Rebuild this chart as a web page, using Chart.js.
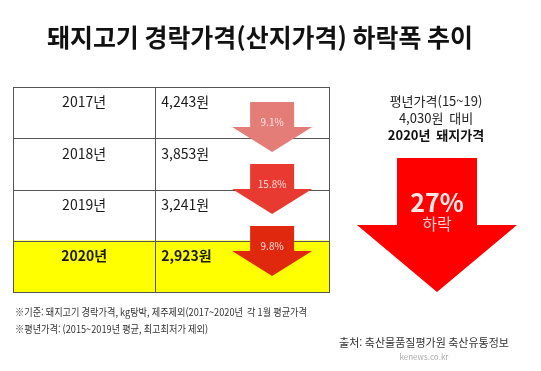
<!DOCTYPE html>
<html lang="ko">
<head>
<meta charset="utf-8">
<title>돼지고기 경락가격 하락폭 추이</title>
<script src="https://cdn.jsdelivr.net/npm/chart.js@4.4.1/dist/chart.umd.min.js"></script>
<style>
    html, body { margin: 0; padding: 0; background: #fff; }
    #caixa { width: 541px; height: 371px; }
</style>
</head>
<body>
<div id="caixa"><canvas id="grafico" width="541" height="371"></canvas></div>
<script>
// Dados (preço médio de janeiro, 원/kg)
const anos = ['2017년', '2018년', '2019년', '2020년'];
const precos = [4243, 3853, 3241, 2923];
const quedas = ['9.1%', '15.8%', '9.8%']; // queda em relação ao ano anterior
const anoDestaque = '2020년';
const precoPadrao = 4030; // 평년가격 (2015~2019)
const quedaTotal = '27%';

const titulo = '돼지고기 경락가격(산지가격) 하락폭 추이';
const textoLateral = ['평년가격(15~19)', precoPadrao.toLocaleString('ko-KR') + '원  대비', '2020년  돼지가격'];
const notas = [
    '※기준: 돼지고기 경락가격, kg탕박, 제주제외(2017~2020년  각 1월 평균가격',
    '※평년가격: (2015~2019년 평균, 최고최저가 제외)'
];
const fonte = '출처: 축산물품질평가원 축산유통정보';

const FONTE = '"Noto Sans CJK KR", "Noto Sans", sans-serif';
const coresSeta = ['#e47c78', '#e83a30', '#e0280f'];

// desenha uma seta para baixo (haste + ponta)
function desenharSeta(ctx, cx, topo, meiaHaste, meiaPonta, altHaste, altPonta, cor) {
    ctx.save();
    ctx.fillStyle = cor;
    ctx.beginPath();
    ctx.moveTo(cx - meiaHaste, topo);
    ctx.lineTo(cx + meiaHaste, topo);
    ctx.lineTo(cx + meiaHaste, topo + altHaste);
    ctx.lineTo(cx + meiaPonta, topo + altHaste);
    ctx.lineTo(cx, topo + altHaste + altPonta);
    ctx.lineTo(cx - meiaPonta, topo + altHaste);
    ctx.lineTo(cx - meiaHaste, topo + altHaste);
    ctx.closePath();
    ctx.fill();
    ctx.restore();
}

// Plugin da tabela: bordas, textos e setas de variação
const pluginTabela = {
    id: 'tabela',
    afterDatasetsDraw(chart) {
        const { ctx, chartArea: area, scales: { x, y } } = chart;
        const meio = (i) => (y.getPixelForValue(i) + y.getPixelForValue(i + 1)) / 2;
        const xDivisao = x.getPixelForValue(0.45);

        ctx.save();
        ctx.strokeStyle = '#555';
        ctx.lineWidth = 1;
        ctx.strokeRect(area.left + 0.5, area.top + 0.5, area.width, area.height);
        ctx.beginPath();
        for (let i = 0; i < anos.length - 1; i++) {
            const yy = Math.round(meio(i)) + 0.5;
            ctx.moveTo(area.left, yy);
            ctx.lineTo(area.right, yy);
        }
        ctx.moveTo(Math.round(xDivisao) + 0.5, area.top);
        ctx.lineTo(Math.round(xDivisao) + 0.5, area.bottom);
        ctx.stroke();

        // textos das linhas
        ctx.fillStyle = '#1a1a1a';
        ctx.textBaseline = 'middle';
        anos.forEach((ano, i) => {
            const topoLinha = i === 0 ? area.top : meio(i - 1);
            const yy = topoLinha + 15;
            const negrito = ano === anoDestaque ? 'bold ' : '';
            ctx.font = negrito + '14px ' + FONTE;
            ctx.textAlign = 'center';
            ctx.fillText(ano, (area.left + xDivisao) / 2, yy);
            ctx.textAlign = 'left';
            ctx.fillText(precos[i].toLocaleString('ko-KR') + '원', xDivisao + 6, yy);
        });

        // setas entre os anos
        const cx = x.getPixelForValue(0.82);
        quedas.forEach((q, i) => {
            const centro = y.getPixelForValue(0.28 + i * 1.21);
            const topo = centro - 25;
            desenharSeta(ctx, cx, topo, 22, 40, 25, 25, coresSeta[i]);
            ctx.fillStyle = 'rgba(255,235,235,0.95)';
            ctx.font = '10px ' + FONTE;
            ctx.textAlign = 'center';
            ctx.fillText(q, cx, topo + 20, 30);
        });
        ctx.restore();
    },
    afterDraw(chart) {
        const { ctx } = chart;
        ctx.save();
        ctx.textBaseline = 'middle';

        // título
        ctx.textAlign = 'left';
        ctx.fillStyle = '#111';
        ctx.font = 'bold 25px ' + FONTE;
        ctx.fillText(titulo, 47, 37, 426);

        // bloco lateral
        ctx.textAlign = 'center';
        ctx.fillStyle = '#222';
        ctx.font = '13px ' + FONTE;
        ctx.fillText(textoLateral[0], 436, 101);
        ctx.fillText(textoLateral[1], 436, 118);
        ctx.font = 'bold 13px ' + FONTE;
        ctx.fillStyle = '#111';
        ctx.fillText(textoLateral[2], 436, 135);

        // seta grande (queda total)
        desenharSeta(ctx, 437, 158, 40, 80, 67, 67, '#ff0000');
        ctx.fillStyle = '#ffe6e6';
        ctx.font = 'bold 25px ' + FONTE;
        ctx.fillText(quedaTotal, 437, 202);
        ctx.fillStyle = '#ffd0d0';
        ctx.font = '16px ' + FONTE;
        ctx.fillText('하락', 437, 224);

        // notas
        ctx.textAlign = 'left';
        ctx.fillStyle = '#333';
        ctx.font = '10px ' + FONTE;
        ctx.fillText(notas[0], 15, 312, 292);
        ctx.fillText(notas[1], 15, 329, 193);

        // fonte
        ctx.textAlign = 'center';
        ctx.font = '11px ' + FONTE;
        ctx.fillText(fonte, 424, 343, 172);
        ctx.fillStyle = '#aaa';
        ctx.font = '8px ' + FONTE;
        ctx.fillText('kenews.co.kr', 424, 357);
        ctx.restore();
    }
};

const ctx = document.getElementById('grafico').getContext('2d');
new Chart(ctx, {
    type: 'bar',
    data: {
        labels: anos,
        datasets: [{
            label: '강조',
            data: anos.map(a => (a === anoDestaque ? [0, 1] : null)),
            backgroundColor: '#ffff00',
            borderWidth: 0,
            barPercentage: 1,
            categoryPercentage: 1
        }]
    },
    options: {
        indexAxis: 'y',
        responsive: false,
        animation: false,
        layout: { padding: { left: 13, top: 87, right: 212, bottom: 79 } },
        scales: {
            x: { type: 'linear', min: 0, max: 1, display: false },
            y: { type: 'category', display: false, offset: true }
        },
        plugins: {
            legend: { display: false },
            tooltip: { enabled: false },
            title: { display: false }
        }
    },
    plugins: [pluginTabela]
});
</script>
</body>
</html>
